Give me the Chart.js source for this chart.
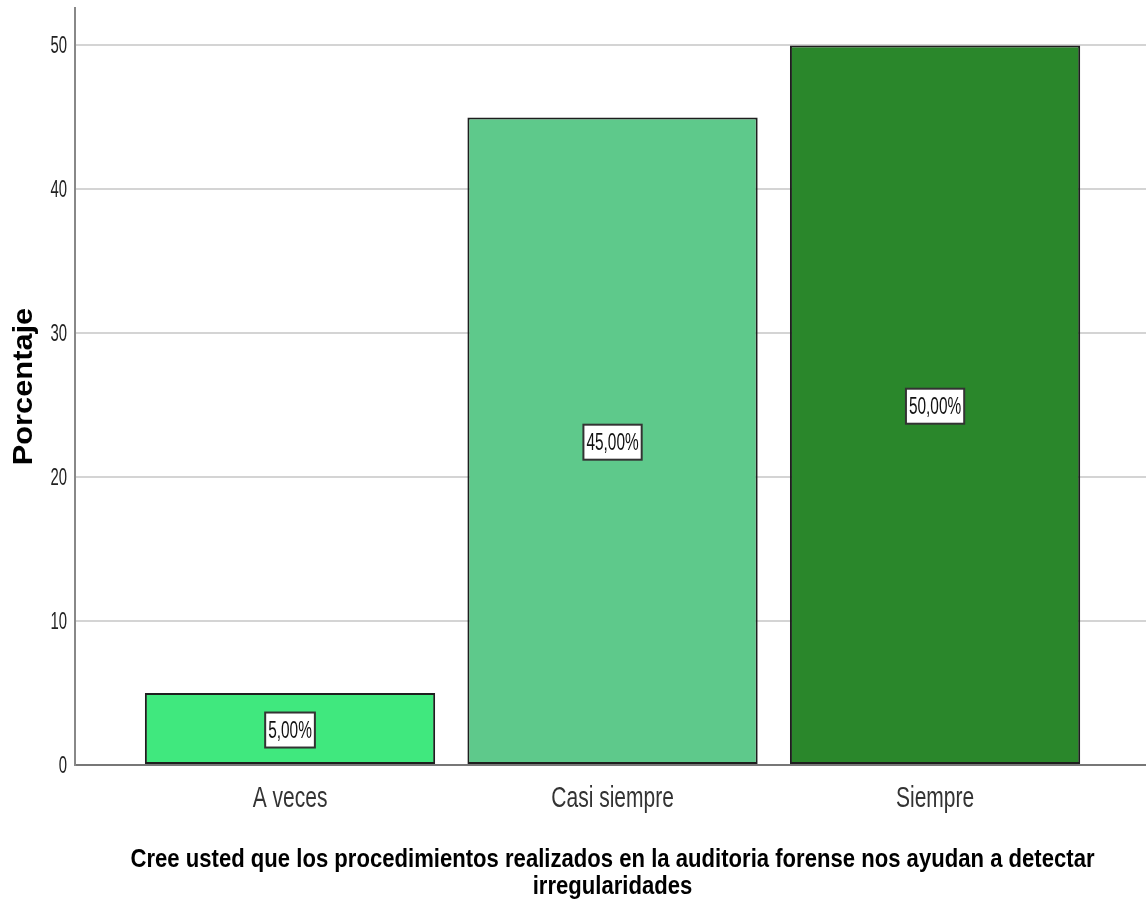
<!DOCTYPE html>
<html>
<head>
<meta charset="utf-8">
<script src="https://cdn.jsdelivr.net/npm/chart.js@4/dist/chart.umd.min.js"></script>
<style>
  html, body { margin: 0; padding: 0; background: #fff; }
  #wrap { width: 1146px; height: 908px; }
</style>
</head>
<body>
<div id="wrap"><canvas id="barras"></canvas></div>
<script>
// datos
const categorias = ["A veces", "Casi siempre", "Siempre"];
const porcentajes = [5, 45, 50];
const colores = ["#40e87e", "#5ec98b", "#2a872b"];
const ticksY = [0, 10, 20, 30, 40, 50];
const tituloX = ["Cree usted que los procedimientos realizados en la auditoria forense nos ayudan a detectar", "irregularidades"];
const tituloY = "Porcentaje";

const fuente = "'Liberation Sans', Arial, sans-serif";

// texto comprimido en horizontal (la fuente original es estrecha)
function texto(ctx, txt, x, y, font, sx, align, baseline, color) {
    ctx.save();
    ctx.translate(x, y);
    ctx.scale(sx, 1);
    ctx.font = font;
    ctx.textAlign = align;
    ctx.textBaseline = baseline;
    ctx.fillStyle = color;
    ctx.fillText(txt, 0, 0);
    ctx.restore();
}

// etiquetas de ejes y titulos
const textos = {
    id: 'textos',
    afterDraw(chart) {
        const ctx = chart.ctx;
        const xs = chart.scales.x;
        const ys = chart.scales.y;
        ticksY.forEach(v => {
            texto(ctx, String(v), ys.right - 8, ys.getPixelForValue(v) + 1, "24px " + fuente, 0.62, 'right', 'middle', '#222');
        });
        categorias.forEach((c, i) => {
            texto(ctx, c, xs.getPixelForValue(i + 1), xs.top + 42, "30px " + fuente, 0.7, 'center', 'alphabetic', '#333');
        });
        const cx = (xs.left + xs.right) / 2 + 2;
        tituloX.forEach((t, i) => {
            texto(ctx, t, cx, xs.top + 102 + i * 27, "bold 26px " + fuente, 0.85, 'center', 'alphabetic', '#000');
        });
        ctx.save();
        ctx.translate(32, (ys.top + ys.bottom) / 2);
        ctx.rotate(-Math.PI / 2);
        ctx.scale(1.1, 1);
        ctx.font = "bold 28px " + fuente;
        ctx.textAlign = 'center';
        ctx.textBaseline = 'alphabetic';
        ctx.fillStyle = '#000';
        ctx.fillText(tituloY, 0, 0);
        ctx.restore();
    }
};

// etiquetas dentro de las barras (caja blanca con borde)
const etiquetas = {
    id: 'etiquetas',
    afterDatasetsDraw(chart) {
        const ctx = chart.ctx;
        const meta = chart.getDatasetMeta(0);
        const sx = 0.67;
        ctx.save();
        ctx.font = "23px " + fuente;
        meta.data.forEach((bar, i) => {
            const txt = porcentajes[i].toFixed(2).replace('.', ',') + '%';
            const cy = (bar.y + bar.base) / 2 + 1.5;
            const w = ctx.measureText(txt).width * sx + 6;
            const h = 35;
            ctx.fillStyle = '#fff';
            ctx.fillRect(bar.x - w / 2, cy - h / 2, w, h);
            ctx.strokeStyle = '#333';
            ctx.lineWidth = 2;
            ctx.strokeRect(bar.x - w / 2, cy - h / 2, w, h);
            texto(ctx, txt, bar.x, cy + 8, "23px " + fuente, sx, 'center', 'alphabetic', '#111');
        });
        ctx.restore();
    }
};

let barras = new Chart(document.getElementById("barras"), {
    type: 'bar',
    data: {
        datasets: [
            {
                label: "Porcentaje",
                data: porcentajes.map((v, i) => ({ x: i + 1, y: v })),
                backgroundColor: colores,
                borderColor: "#1e1e1e",
                borderWidth: 2,
                borderSkipped: false,
                barPercentage: 0.9,
                categoryPercentage: 1
            }
        ]
    },
    options: {
        responsive: true,
        maintainAspectRatio: false,
        animation: false,
        layout: {
            padding: { top: 8, right: 0, left: 0, bottom: 0 }
        },
        plugins: {
            legend: { display: false },
            tooltip: { enabled: false }
        },
        scales: {
            x: {
                type: 'linear',
                offset: false,
                min: 0.3333,
                max: 3.654,
                afterFit: (s) => { s.height = 143; },
                afterBuildTicks: (s) => { s.ticks = categorias.map((c, i) => ({ value: i + 1 })); },
                grid: { display: false, drawTicks: false },
                border: { display: true, color: "#777", width: 2 },
                ticks: { display: false }
            },
            y: {
                min: 0,
                max: 52.6,
                afterFit: (s) => { s.width = 75; },
                afterBuildTicks: (s) => { s.ticks = ticksY.map(v => ({ value: v })); },
                grid: { color: "#d4d4d4", lineWidth: 2, drawTicks: false },
                border: { display: true, color: "#888", width: 2 },
                ticks: { display: false }
            }
        }
    },
    plugins: [etiquetas, textos]
});
</script>
</body>
</html>
